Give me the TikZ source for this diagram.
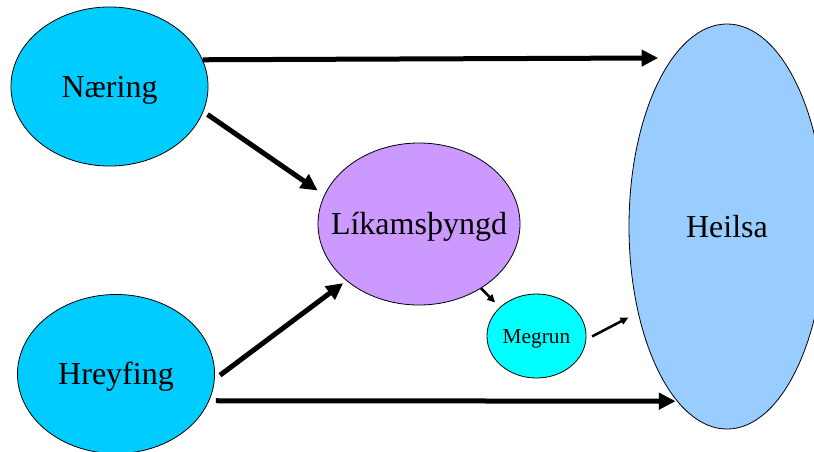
\documentclass[tikz,border=0pt]{standalone}
\usepackage{fontspec}
\setmainfont{Liberation Serif}
\usetikzlibrary{shapes.geometric}
\usetikzlibrary{arrows.meta}
\definecolor{foodblue}{RGB}{0,204,255}
\definecolor{weightlilac}{RGB}{204,153,255}
\definecolor{dietcyan}{RGB}{0,255,255}
\definecolor{healthblue}{RGB}{153,204,255}
\tikzset{blob/.style={ellipse,draw=black,line width=0.6pt,inner sep=0pt,
		text height=15.9pt,text depth=0pt,font=\fontsize{24}{28}\selectfont}}
\tikzset{big arrow/.style={line width=3.75pt,-{Triangle[length=12.5pt,width=12pt]}},
		 small arrow/.style={line width=1.9pt,-{Triangle[length=6pt,width=5.5pt]}}}

\begin{document}
\begin{tikzpicture}[x=0.75pt,y=-0.75pt]
	\clip (0,0) rectangle (814,451);
	\fill[white] (0,0) rectangle (814,451);
	\node[blob,fill=foodblue,minimum width=147.8pt,minimum height=119.3pt] (naering) at (109.5,86.5) {Næring};
	\node[blob,fill=foodblue,minimum width=147.8pt,minimum height=119.3pt] (hreyfing) at (116,374) {Hreyfing};
	\node[blob,fill=weightlilac,minimum width=151.5pt,minimum height=121.5pt] (lik) at (419,224) {\makebox[0pt]{Líkamsþyngd}};
	\node[blob,fill=dietcyan,minimum width=74.3pt,minimum height=63pt,text height=10.6pt,
		font=\fontsize{16}{19}\selectfont] (megrun) at (536.5,336) {Megrun};
	\node[blob,fill=healthblue,minimum width=147pt,minimum height=303.8pt] (heilsa) at (727,226.5) {Heilsa};
	\draw[big arrow,shorten >=10.5pt] (naering.16) -- (heilsa.108.5);
	\draw[big arrow,shorten <=3.75pt,shorten >=6pt] (naering.-15) -- (lik.163);
	\draw[big arrow,shorten <=5pt,shorten >=3pt] (hreyfing.-3) -- (lik.218);
	\draw[big arrow,shorten <=5pt,shorten >=1pt] (hreyfing.-16) -- (heilsa.254);
	\draw[small arrow,shorten >=5pt] (lik.-46) -- (megrun.142); % megrun
	\draw[small arrow,shorten <=5pt,shorten >=8pt] (megrun.-4) -- (heilsa.224);
\end{tikzpicture}
\end{document}
